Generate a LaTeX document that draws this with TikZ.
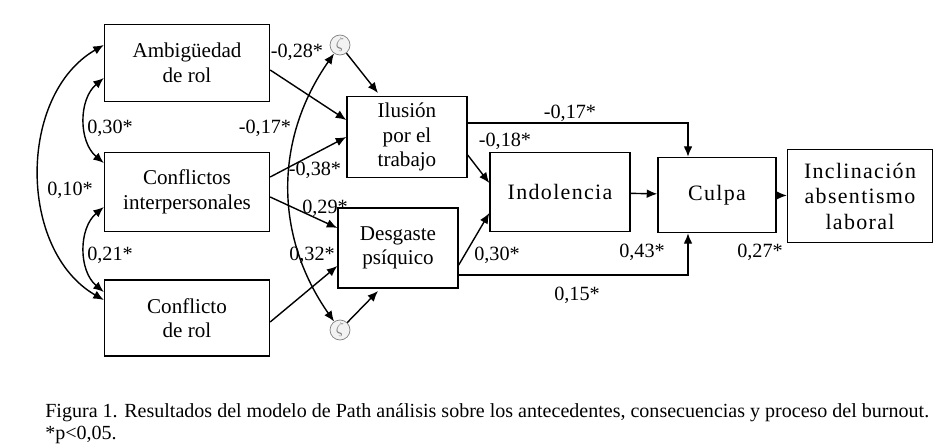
\documentclass[tikz,border=0pt]{standalone}
\usepackage{fontspec}
\setmainfont{Liberation Serif}
\usetikzlibrary{arrows.meta}

\tikzset{
  var/.style={draw,thick,align=center,font=\fontsize{12}{14}\selectfont},
  wide/.style={font=\fontsize{12.5}{14.5}\selectfont\addfontfeature{LetterSpace=6}},
  err/.style={circle,draw=gray,fill=gray!10,minimum size=0.4cm,inner sep=0pt,font=\small\color{gray}},
  coef/.style={font=\fontsize{11.5}{13}\selectfont},
  path/.style={-{Latex[length=6pt,width=5pt]},thick},
  cov/.style={{Latex[length=6pt,width=5pt]}-{Latex[length=6pt,width=5pt]},thick}
}

\begin{document}
\begin{tikzpicture}[x=0.02cm,y=-0.02cm]
  \useasboundingbox (0,0) rectangle (940,446);

  % Define nodes
  \node[var,minimum width=3.3cm,minimum height=1.54cm] (amb) at (187,63) {Ambigüedad\\de rol};
  \node[var,minimum width=3.3cm,minimum height=1.58cm] (conf) at (187,192) {Conflictos\\interpersonales};
  \node[var,minimum width=3.3cm,minimum height=1.52cm] (rol) at (187,318) {Conflicto\\de rol};
  \node[var,minimum width=2.4cm,minimum height=1.62cm] (ilu) at (407,137) {Ilusión\\por el\\trabajo};
  \node[var,minimum width=2.4cm,minimum height=1.6cm] (desg) at (398,248) {Desgaste\\psíquico};
  \node[var,wide,minimum width=2.8cm,minimum height=1.58cm] (indo) at (560,192) {Indolencia};
  \node[var,wide,minimum width=2.36cm,minimum height=1.5cm] (culpa) at (717,195) {Culpa};
  \node[var,wide,minimum width=2.9cm,minimum height=1.86cm] (incl) at (860,196) {Inclinación\\absentismo\\laboral};
  \node[err] (e1) at (340,45) {$\zeta$};
  \node[err] (e2) at (340,330) {$\zeta$};

  % Paths
  \draw[path] (amb.east |- 0,70) -- (ilu.west |- 0,120);
  \draw[path] (conf.east |- 0,177) -- (ilu.west |- 0,137);
  \draw[path] (conf.east |- 0,197) -- (desg.west |- 0,228);
  \draw[path] (rol.east |- 0,322) -- (desg.west |- 0,266);
  \draw[path] (e1) -- (378,93);
  \draw[path] (e2) -- (378,291);
  \draw[path] (ilu.east |- 0,155) -- (indo.west |- 0,183);
  \draw[path] (desg.east |- 0,265) -- (indo.west |- 0,213);
  \draw[path] (ilu.east |- 0,123) -| (culpa.north -| 688,0);
  \draw[path] (desg.east |- 0,275) -| (culpa.south -| 688,0);
  \draw[path] (indo) -- (culpa);
  \draw[path] (culpa) -- (incl);

  % Covariances
  \draw[cov] (amb.west |- 0,45) to[out=210,in=150] (rol.west |- 0,300);
  \draw[cov] (amb.west |- 0,78) to[out=220,in=140] (conf.west |- 0,163);
  \draw[cov] (conf.west |- 0,207) to[out=220,in=140] (rol.west |- 0,292);
  \draw[cov] (e1) to[out=235,in=125] (e2);

  % Coefficients
  \node[coef] (c1) at (297,52) {-0,28*};
  \node[coef] (c2) at (265,128) {-0,17*};
  \node[coef] (c3) at (315,170) {-0,38*};
  \node[coef] (c4) at (325,208) {0,29*};
  \node[coef] (c5) at (312,255) {0,32*};
  \node[coef] (c6) at (570,113) {-0,17*};
  \node[coef] (c7) at (505,141) {-0,18*};
  \node[coef] (c8) at (497,255) {0,30*};
  \node[coef] (c9) at (642,252) {0,43*};
  \node[coef] (c10) at (760,252) {0,27*};
  \node[coef] (c11) at (577,295) {0,15*};
  \node[coef] (c12) at (110,128) {0,30*};
  \node[coef] (c13) at (70,190) {0,10*};
  \node[coef] (c14) at (110,255) {0,21*};

  % Caption
  \node[anchor=north west,align=left,font=\fontsize{11.4}{12.5}\selectfont,inner sep=0pt] (cap) at (45,403)
    {Figura 1. Resultados del modelo de Path análisis sobre los antecedentes, consecuencias y proceso del burnout.\\*p\textless0,05.};
\end{tikzpicture}
\end{document}
